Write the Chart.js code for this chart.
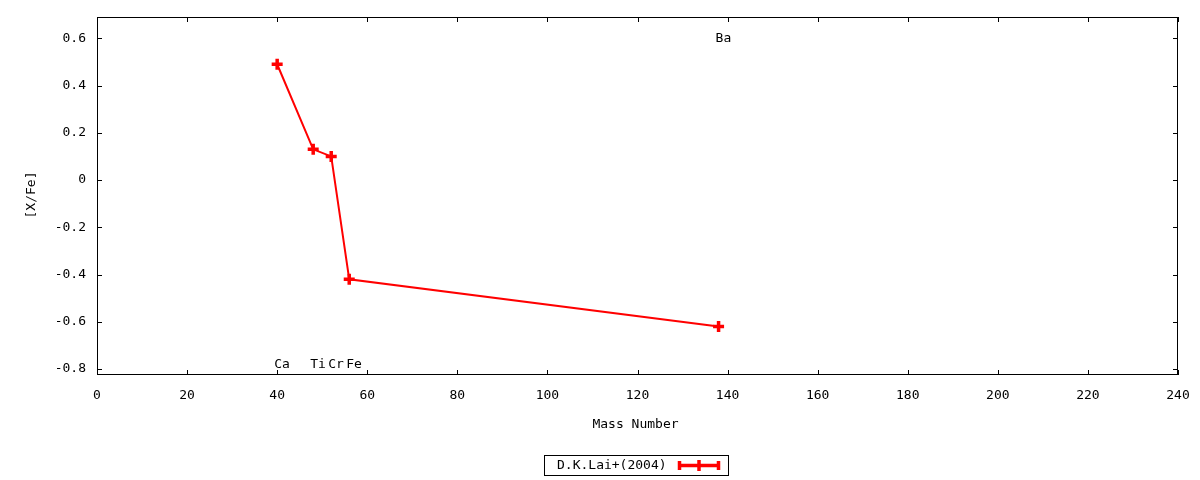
<!DOCTYPE html>
<html>
<head>
<meta charset="utf-8">
<script src="https://cdn.jsdelivr.net/npm/chart.js@4"></script>
<style>
html,body{margin:0;padding:0;background:#fff;}
#wrap{width:1200px;height:480px;}
</style>
</head>
<body>
<div id="wrap"><canvas id="c" width="1200" height="480"></canvas></div>
<script>
// ---- data ----
const elements = ['Ca', 'Ti', 'Cr', 'Fe', 'Ba'];
const massNumber = [40, 48, 52, 56, 138];
const xFe = [0.49, 0.13, 0.10, -0.42, -0.62];
const labelY = [-0.78, -0.78, -0.78, -0.78, 0.6];
const seriesLabel = 'D.K.Lai+(2004)';
const xTicks = [0, 20, 40, 60, 80, 100, 120, 140, 160, 180, 200, 220, 240];
const yTicks = [-0.8, -0.6, -0.4, -0.2, 0, 0.2, 0.4, 0.6];
const xTitle = 'Mass Number';
const yTitle = '[X/Fe]';

const FONT = '"DejaVu Sans Mono", "Liberation Mono", monospace';
const RED = '#ff0000';

const points = massNumber.map((m, i) => ({x: m, y: xFe[i]}));

const decor = {
  id: 'decor',
  beforeDatasetsDraw(chart) {
    const {ctx, chartArea: a, scales: {x, y}} = chart;
    ctx.save();
    ctx.strokeStyle = '#000';
    ctx.lineWidth = 1;
    ctx.strokeRect(a.left + 0.5, a.top + 0.5, a.right - a.left - 1, a.bottom - a.top - 1);
    const L = 5;
    ctx.beginPath();
    xTicks.forEach(v => {
      const px = Math.round(x.getPixelForValue(v)) + 0.5;
      ctx.moveTo(px, a.bottom); ctx.lineTo(px, a.bottom - L);
      ctx.moveTo(px, a.top); ctx.lineTo(px, a.top + L);
    });
    yTicks.forEach(v => {
      const py = Math.round(y.getPixelForValue(v)) + 0.5;
      ctx.moveTo(a.left, py); ctx.lineTo(a.left + L, py);
      ctx.moveTo(a.right, py); ctx.lineTo(a.right - L, py);
    });
    ctx.stroke();
    // element labels
    ctx.fillStyle = '#000';
    ctx.font = '13px ' + FONT;
    ctx.textAlign = 'left';
    ctx.textBaseline = 'middle';
    elements.forEach((e, i) => {
      ctx.fillText(e, x.getPixelForValue(massNumber[i]) - 3, y.getPixelForValue(labelY[i]));
    });
    // axis titles
    ctx.textAlign = 'center';
    ctx.fillText(xTitle, (a.left + a.right) / 2 - 2, 425);
    ctx.save();
    ctx.translate(32, 195);
    ctx.rotate(-Math.PI / 2);
    ctx.fillText(yTitle, 0, 0);
    ctx.restore();
    // legend
    ctx.lineWidth = 1;
    ctx.strokeRect(544.5, 455.5, 184, 20);
    ctx.textAlign = 'left';
    ctx.fillText(chart.data.datasets[0].label, 557, 465.5);
    ctx.strokeStyle = RED;
    ctx.lineWidth = 3.5;
    ctx.beginPath();
    ctx.moveTo(678, 465.5); ctx.lineTo(720, 465.5);
    ctx.moveTo(679.5, 461); ctx.lineTo(679.5, 470);
    ctx.moveTo(718.5, 461); ctx.lineTo(718.5, 470);
    ctx.moveTo(699, 460); ctx.lineTo(699, 471);
    ctx.stroke();
    ctx.restore();
  }
};

new Chart(document.getElementById('c'), {
  type: 'line',
  data: {
    datasets: [{
      label: seriesLabel,
      data: points,
      borderColor: RED,
      backgroundColor: RED,
      borderWidth: 2,
      pointStyle: 'cross',
      pointRadius: 5.5,
      pointBorderWidth: 3.5,
      pointHoverRadius: 5.5,
      tension: 0
    }]
  },
  options: {
    responsive: false,
    animation: false,
    devicePixelRatio: 1,
    layout: {autoPadding: false, padding: {top: 17, right: 22, left: 0, bottom: 0}},
    plugins: {legend: {display: false}, tooltip: {enabled: false}},
    scales: {
      x: {
        type: 'linear',
        min: 0, max: 240,
        afterFit(s) { s.height = 105; s.paddingLeft = 0; s.paddingRight = 0; },
        afterBuildTicks(s) { s.ticks = xTicks.map(v => ({value: v})); },
        grid: {display: false, drawTicks: false},
        border: {display: false},
        ticks: {color: '#000', font: {family: FONT, size: 13}, padding: 13, maxRotation: 0,
          callback: v => String(v)}
      },
      y: {
        type: 'linear',
        min: -0.825, max: 0.69,
        afterFit(s) { s.width = 97; s.paddingTop = 0; s.paddingBottom = 0; },
        afterBuildTicks(s) { s.ticks = yTicks.map(v => ({value: v})); },
        grid: {display: false, drawTicks: false},
        border: {display: false},
        ticks: {color: '#000', font: {family: FONT, size: 13}, padding: 11,
          callback: v => (Math.abs(v) < 1e-9 ? '0' : Number(v).toFixed(1))}
      }
    }
  },
  plugins: [decor]
});
</script>
</body>
</html>
